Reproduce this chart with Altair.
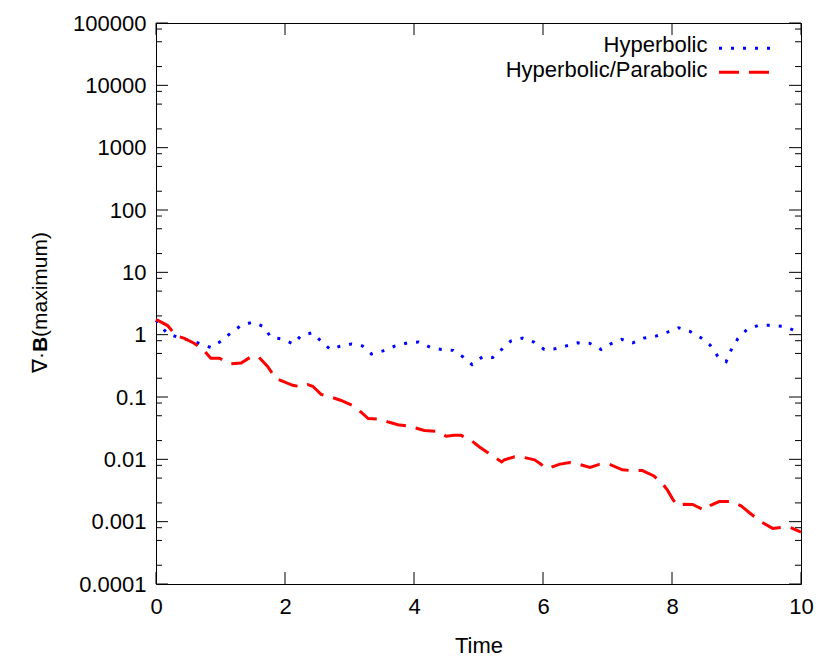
import altair as alt
import pandas as pd

# ---- data ----
hyp_t = [0, 0.18, 0.34, 0.52, 0.70, 0.85, 1.01, 1.16, 1.32, 1.49, 1.67, 1.78, 1.95, 2.13, 2.25,
         2.42, 2.56, 2.70, 2.85, 3.03, 3.20, 3.34, 3.52, 3.71, 3.90, 4.07, 4.25, 4.42, 4.61, 4.76,
         4.90, 5.06, 5.22, 5.36, 5.50, 5.68, 5.86, 6.02, 6.17, 6.36, 6.54, 6.72, 6.90, 7.05, 7.22,
         7.39, 7.56, 7.74, 7.93, 8.10, 8.27, 8.45, 8.59, 8.71, 8.84, 8.91, 9.02, 9.16, 9.33, 9.53,
         9.72, 9.90, 10.0]
hyp_v = [1.7, 1.03, 0.91, 0.81, 0.71, 0.62, 0.79, 1.07, 1.40, 1.58, 1.35, 0.91, 0.85, 0.71, 0.97,
         1.07, 0.79, 0.58, 0.65, 0.71, 0.66, 0.49, 0.55, 0.66, 0.74, 0.76, 0.63, 0.58, 0.56, 0.44,
         0.33, 0.44, 0.43, 0.58, 0.79, 0.88, 0.76, 0.58, 0.59, 0.66, 0.74, 0.73, 0.58, 0.71, 0.84,
         0.74, 0.88, 0.94, 1.10, 1.29, 1.14, 0.89, 0.68, 0.45, 0.37, 0.55, 0.86, 1.20, 1.40, 1.42,
         1.36, 1.17, 1.05]

par_t = [0, 0.03, 0.18, 0.31, 0.44, 0.59, 0.72, 0.85, 0.98, 1.16, 1.32, 1.47, 1.59, 1.73, 1.86,
         2.12, 2.25, 2.35, 2.43, 2.56, 2.71, 2.87, 3.05, 3.18, 3.29, 3.46, 3.59, 3.75, 3.93, 4.16,
         4.37, 4.50, 4.62, 4.73, 4.88, 5.01, 5.14, 5.36, 5.40, 5.56, 5.71, 5.87, 6.07, 6.25, 6.41,
         6.56, 6.73, 6.87, 7.03, 7.23, 7.36, 7.54, 7.72, 7.85, 7.93, 8.01, 8.09, 8.19, 8.32, 8.50,
         8.60, 8.73, 8.91, 9.07, 9.22, 9.38, 9.56, 9.72, 9.84, 10.0]
par_v = [1.72, 1.69, 1.40, 0.97, 0.87, 0.73, 0.59, 0.42, 0.42, 0.34, 0.35, 0.44, 0.44, 0.31, 0.197,
         0.154, 0.146, 0.158, 0.149, 0.110, 0.100, 0.088, 0.073, 0.057, 0.045, 0.044, 0.040, 0.036,
         0.034, 0.029, 0.028, 0.0235, 0.0243, 0.0243, 0.0204, 0.0159, 0.0129, 0.0091, 0.0098, 0.011,
         0.0107, 0.0098, 0.0071, 0.0083, 0.0089, 0.0083, 0.0074, 0.0083, 0.0083, 0.0068, 0.0066,
         0.0066, 0.0054, 0.0041, 0.0032, 0.0023, 0.0018, 0.0019, 0.00189, 0.00153, 0.00183, 0.0021,
         0.0021, 0.0018, 0.00134, 0.0010, 0.00078, 0.00081, 0.0008, 0.00068]

series_names = ["Hyperbolic", "Hyperbolic/Parabolic"]
series_colors = ["#0000ff", "#ff0000"]
series_dash = [[3, 9], [20, 10]]

y_major = [1e-4, 1e-3, 1e-2, 1e-1, 1, 10, 100, 1000, 10000, 100000]
y_minor = [m * d for d in [1e-4, 1e-3, 1e-2, 1e-1, 1, 10, 100, 1000, 10000] for m in (2, 5, 8)]
x_major = [0, 2, 4, 6, 8, 10]

# ---- layout ----
W, H = 645, 561
FONT = "Liberation Sans"
FS = 22
FS_T = 21

xscale = alt.Scale(domain=[0, 10], nice=False, zero=False)
yscale = alt.Scale(type="log", domain=[1e-4, 1e5], nice=False)
xaxis = alt.Axis(values=x_major, format="d", ticks=False, domain=False, grid=False,
                 labelFlush=False, labelPadding=12, title="Time", titlePadding=18)
yaxis = alt.Axis(values=y_major, format="~g", ticks=False, domain=False, grid=False,
                 labelFlush=False, labelPadding=10, title="")

def X(f):
    return alt.X(f, type="quantitative", scale=xscale, axis=xaxis)

def Y(f):
    return alt.Y(f, type="quantitative", scale=yscale, axis=yaxis)

hyp = pd.DataFrame({"t": hyp_t, "v": hyp_v})
par = pd.DataFrame({"t": par_t, "v": par_v})

line_h = alt.Chart(hyp).mark_line(color=series_colors[0], strokeDash=series_dash[0],
                                  strokeWidth=3, strokeCap="butt").encode(x=X("t"), y=Y("v"))
line_p = alt.Chart(par).mark_line(color=series_colors[1], strokeDash=series_dash[1],
                                  strokeWidth=3, strokeCap="butt").encode(x=X("t"), y=Y("v"))

ymaj = pd.DataFrame({"val": y_major})
ymin = pd.DataFrame({"val": y_minor})
xmaj = pd.DataFrame({"val": x_major})

tick_style = dict(color="black", strokeWidth=1)
ticks = [
    alt.Chart(ymaj).mark_rule(**tick_style).encode(y=Y("val"), x=alt.value(0), x2=alt.value(12)),
    alt.Chart(ymaj).mark_rule(**tick_style).encode(y=Y("val"), x=alt.value(W - 12), x2=alt.value(W)),
    alt.Chart(ymin).mark_rule(**tick_style).encode(y=Y("val"), x=alt.value(0), x2=alt.value(6)),
    alt.Chart(ymin).mark_rule(**tick_style).encode(y=Y("val"), x=alt.value(W - 6), x2=alt.value(W)),
    alt.Chart(xmaj).mark_rule(**tick_style).encode(x=X("val"), y=alt.value(H - 12), y2=alt.value(H)),
    alt.Chart(xmaj).mark_rule(**tick_style).encode(x=X("val"), y=alt.value(0), y2=alt.value(12)),
]

# ---- legend (gnuplot style: label then sample) ----
legend_layers = []
for i, (name, col, dash) in enumerate(zip(series_names, series_colors, series_dash)):
    d = pd.DataFrame({"s": [name]})
    legend_layers.append(
        alt.Chart(d).mark_text(align="right", baseline="alphabetic", font=FONT, fontSize=FS,
                               color="black").encode(text="s:N", x=alt.value(551.5),
                                                     y=alt.value(29 + 25 * i)))
    legend_layers.append(
        alt.Chart(d).mark_rule(color=col, strokeDash=dash, strokeWidth=3, strokeCap="butt").encode(
            x=alt.value(563), x2=alt.value(617), y=alt.value(25.3 + 24 * i)))

# ---- y title with bold B ----
yt_parts = pd.DataFrame({"p": ["∇·", "B", "(maximum)"]})
yt_x = -115.5
yt_y = 329
ytitle = [
    alt.Chart(yt_parts.iloc[[0]]).mark_text(angle=270, align="right", baseline="middle", font=FONT,
                                           fontSize=FS_T, color="black").encode(
        text="p:N", x=alt.value(yt_x), y=alt.value(yt_y)),
    alt.Chart(yt_parts.iloc[[1]]).mark_text(angle=270, align="left", baseline="middle", font=FONT,
                                           fontSize=FS_T, fontWeight="bold", color="black").encode(
        text="p:N", x=alt.value(yt_x), y=alt.value(yt_y)),
    alt.Chart(yt_parts.iloc[[2]]).mark_text(angle=270, align="left", baseline="middle", font=FONT,
                                           fontSize=FS_T, color="black").encode(
        text="p:N", x=alt.value(yt_x), y=alt.value(yt_y - 15)),
]

chart = alt.layer(line_h, line_p, *ticks, *legend_layers, *ytitle).properties(
    width=W, height=H,
    autosize=alt.AutoSizeParams(type="none"),
    padding={"left": 148, "top": 15, "right": 20, "bottom": 80},
).configure_view(stroke="black", strokeWidth=1).configure_axis(
    labelFont=FONT, labelFontSize=FS, labelColor="black",
    titleFont=FONT, titleFontSize=FS, titleColor="black", titleFontWeight="normal",
)

chart.save("out.html", embed_options={"renderer": "svg", "actions": False})
